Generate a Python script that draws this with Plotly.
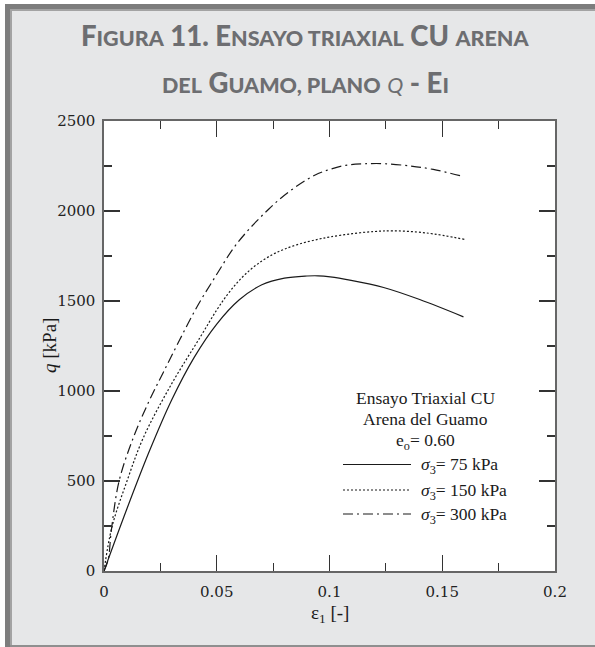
import plotly.graph_objects as go

# ---------------- data ----------------
eps_75 = [0, 0.010, 0.020, 0.030, 0.040, 0.050, 0.060, 0.070, 0.080, 0.090, 0.095,
          0.1003, 0.109, 0.124, 0.140, 0.1594]
q_75 = [0, 340, 662, 950, 1187, 1372, 1507, 1590, 1627, 1639, 1640,
        1634, 1616, 1575, 1508, 1412]

eps_150 = [0, 0.0035, 0.0102, 0.0176, 0.030, 0.0427, 0.050, 0.055, 0.060, 0.065, 0.070,
           0.075, 0.080, 0.087, 0.095, 0.1003, 0.110, 0.120, 0.128, 0.143, 0.160]
q_150 = [0, 243, 500, 745, 1040, 1300, 1450, 1540, 1615, 1675, 1722,
         1760, 1788, 1818, 1843, 1856, 1874, 1886, 1890, 1878, 1842]

eps_300 = [0, 0.0018, 0.0033, 0.0067, 0.0131, 0.0198, 0.0264, 0.0334, 0.0412, 0.0493,
           0.0575, 0.063, 0.0678, 0.073, 0.0781, 0.084, 0.090, 0.095, 0.1003, 0.1077,
           0.115, 0.124, 0.1358, 0.146, 0.1587]
q_300 = [0, 60, 230, 500, 744, 939, 1106, 1280, 1467, 1634,
         1795, 1880, 1945, 2010, 2068, 2125, 2175, 2208, 2232, 2255,
         2262, 2263, 2250, 2231, 2194]

series_names = ["σ3= 75 kPa", "σ3= 150 kPa", "σ3= 300 kPa"]
series_labels = ["<i>σ</i><sub>3</sub>= 75 kPa", "<i>σ</i><sub>3</sub>= 150 kPa",
                 "<i>σ</i><sub>3</sub>= 300 kPa"]
series_dash = ["solid", "2px,2px", "10px,4px,2px,4px"]

x_tickvals = [0, 0.05, 0.1, 0.15, 0.2]
y_tickvals = [0, 500, 1000, 1500, 2000, 2500]

legend_header = ["Ensayo Triaxial CU", "Arena del Guamo", "e<sub>o</sub>= 0.60"]

# ---------------- layout geometry ----------------
W, H = 595, 647
ML, MR, MT, MB = 104, 40, 121, 76
PW, PH = W - ML - MR, H - MT - MB
BG = "#e6e7e8"


def xp(px):
    return (px - ML) / PW


def yp(py):
    return (H - MB - py) / PH


LINE_COLOR = "#1a1a1a"
fig = go.Figure()
for xs, ys, name, dash in zip([eps_75, eps_150, eps_300], [q_75, q_150, q_300],
                              series_names, series_dash):
    fig.add_trace(go.Scatter(x=xs, y=ys, mode="lines", name=name,
                             line=dict(color=LINE_COLOR, width=1.2, dash=dash, shape="spline",
                                       smoothing=1.0),
                             showlegend=False, hoverinfo="skip"))

tickfont = dict(family="DejaVu Serif", size=15, color="#222222")
axis_common = dict(showgrid=False, zeroline=False, showline=True, linecolor="#666666",
                   linewidth=1.6, mirror="allticks", ticks="inside", ticklen=16,
                   tickwidth=1.3, tickcolor="#333333", tickfont=tickfont)

fig.update_xaxes(range=[0, 0.2], tickvals=x_tickvals, ticktext=[str(v) for v in x_tickvals],
                 minor=dict(dtick=0.025, ticklen=8, tickwidth=1.1, tickcolor="#333333",
                            ticks="inside", showgrid=False),
                 ticklabelstandoff=6, **axis_common)
fig.update_yaxes(range=[0, 2500], tickvals=y_tickvals, ticktext=[str(v) for v in y_tickvals],
                 minor=dict(dtick=250, ticklen=8, tickwidth=1.1, tickcolor="#333333",
                            ticks="inside", showgrid=False),
                 ticklabelstandoff=4, **axis_common)

shapes = []


def rect(x0, y0, x1, y1, color):
    shapes.append(dict(type="rect", xref="paper", yref="paper", x0=xp(x0), x1=xp(x1),
                       y0=yp(y1), y1=yp(y0), fillcolor=color, line=dict(width=0),
                       layer="above"))


# outer frame
rect(0, 0, 5, H, "white")
rect(0, 0, W, 4, "white")
rect(5, 4, 10, H, "#7d7d7d")
rect(5, 4, W, 9, "#7d7d7d")
rect(10, 9, 12, H, "#a3a3a3")
rect(10, 9, W, 11, "#a3a3a3")
rect(10, 645, W, H, "#8f8f8f")

# legend samples
legend_y = [464.5, 490, 514]
for yy, dash in zip(legend_y, series_dash):
    shapes.append(dict(type="line", xref="paper", yref="paper", x0=xp(343), x1=xp(411),
                       y0=yp(yy), y1=yp(yy), line=dict(color=LINE_COLOR, width=1.2, dash=dash)))

annotations = []
serif = "Liberation Serif"
for txt, yy in zip(legend_header, [397.5, 419, 441]):
    annotations.append(dict(text=txt, xref="paper", yref="paper", x=xp(425), y=yp(yy),
                            xanchor="center", yanchor="middle", showarrow=False,
                            font=dict(family=serif, size=17.5, color="#1a1a1a")))
for txt, yy in zip(series_labels, legend_y):
    annotations.append(dict(text=txt, xref="paper", yref="paper", x=xp(419), y=yp(yy + 1),
                            xanchor="left", yanchor="middle", showarrow=False,
                            font=dict(family=serif, size=17.5, color="#1a1a1a")))

# axis titles
annotations.append(dict(text="ε<sub>1</sub> [-]", xref="paper", yref="paper", x=xp(329.5),
                        y=yp(614), xanchor="center", yanchor="middle", showarrow=False,
                        font=dict(family=serif, size=19, color="#1a1a1a")))
annotations.append(dict(text="<i>q</i> [kPa]", xref="paper", yref="paper", x=xp(49),
                        y=yp(346), xanchor="center", yanchor="middle", showarrow=False,
                        textangle=-90, font=dict(family=serif, size=19, color="#1a1a1a")))

# title (small caps imitation)
s = "<span style='font-size:21.5px'>"
e = "</span>"
title1 = f"F{s}IGURA{e} 11. E{s}NSAYO TRIAXIAL{e} CU {s}ARENA{e}"
title2 = (f"{s}DEL{e} G{s}UAMO, PLANO{e} "
          f"<span style='font-size:21.5px;font-weight:normal'><i>Q</i></span> - E{s}I{e}")
for txt, yy in zip([title1, title2], [35, 83]):
    annotations.append(dict(text=txt, xref="paper", yref="paper", x=xp(305), y=yp(yy),
                            xanchor="center", yanchor="middle", showarrow=False,
                            font=dict(family="Lato", size=27.5, color="#6d6e71",
                                      weight=900)))

fig.update_layout(width=W, height=H, margin=dict(l=ML, r=MR, t=MT, b=MB, autoexpand=False),
                  paper_bgcolor=BG, plot_bgcolor="white", shapes=shapes,
                  annotations=annotations, showlegend=False, hovermode=False)

page_js = (
    "var st=document.createElement('style');"
    "st.textContent='html,body{margin:0;padding:0;overflow:hidden;background:" + BG + ";}"
    "::-webkit-scrollbar{display:none;width:0;height:0;}';"
    "document.head.appendChild(st);"
)
fig.write_html("out.html", config={"displayModeBar": False, "staticPlot": True},
               post_script=page_js)
